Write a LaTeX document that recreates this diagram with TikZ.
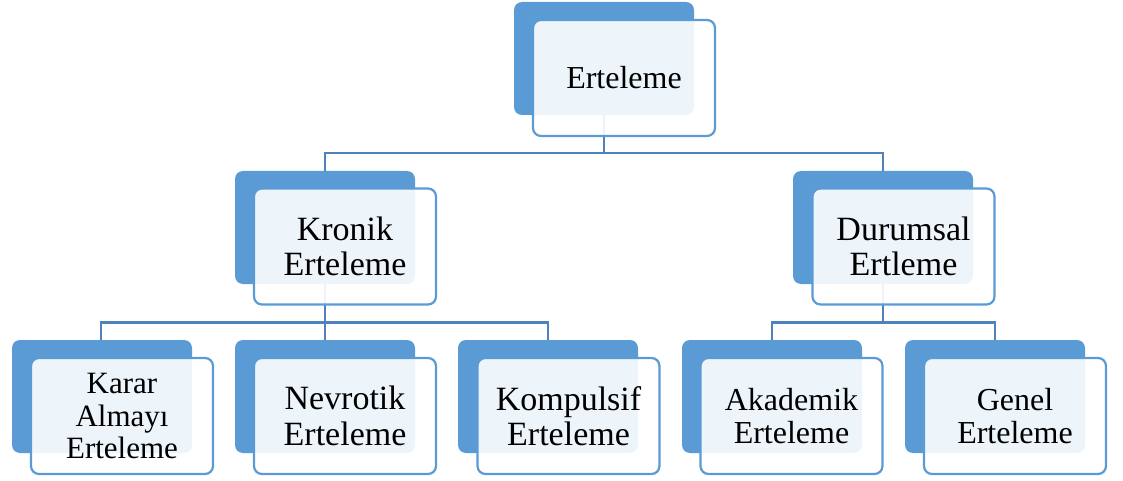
\documentclass[tikz,border=0pt]{standalone}
\usepackage{fontspec}
\setmainfont{Liberation Serif}
\definecolor{boxblue}{HTML}{5B9BD5}
\definecolor{linkblue}{HTML}{4F81BD}
\tikzset{
  backbox/.style={rectangle, rounded corners=8pt, fill=boxblue, draw=none,
    minimum width=180pt, minimum height=113pt, inner sep=0pt},
  frontbox/.style={rectangle, rounded corners=8pt, draw=boxblue, line width=2.2pt,
    fill=white, fill opacity=0.9, text opacity=1,
    minimum width=182pt, minimum height=116pt, inner sep=0pt, align=center},
  big/.style={font=\fontsize{34}{35.5}\selectfont},
  mid/.style={font=\fontsize{32}{33}\selectfont},
  small/.style={font=\fontsize{31}{32.5}\selectfont},
  link/.style={draw=linkblue, line width=2.3pt}
}
\begin{document}
\begin{tikzpicture}[x=1pt,y=-1pt]
\useasboundingbox (0,0) rectangle (1123,481);
% back boxes
\node[backbox] (topB) at (604,58.5) {};
\node[backbox] (kronB) at (325,227.5) {};
\node[backbox] (durB) at (883,227.5) {};
\node[backbox] (kararB) at (102,396.5) {};
\node[backbox] (nevB) at (325,396.5) {};
\node[backbox] (kompB) at (548,396.5) {};
\node[backbox] (akaB) at (772,396.5) {};
\node[backbox] (genB) at (995,396.5) {};
% connectors
\coordinate (j1) at (604,153);
\coordinate (j2) at (325,322.5);
\coordinate (j3) at (883,322.5);
\draw[link] (topB.south) -- (j1);
\draw[link] (kronB.north) |- (j1) -| (durB.north);
\draw[link] (kronB.south) -- (j2);
\draw[link] (kararB.north -| 101,0) |- (j2) -| (kompB.north);
\draw[link] (j2) -- (nevB.north);
\draw[link] (durB.south) -- (j3);
\draw[link] (akaB.north) |- (j3) -| (genB.north);
% front boxes
\node[frontbox, mid] (top) at (624,78) {Erteleme};
\node[frontbox, big] (kron) at (345,246.5) {Kronik\\Erteleme};
\node[frontbox, big] (dur) at (903.5,246.5) {Durumsal\\Ertleme};
\node[frontbox, small] (karar) at (122,416) {Karar\\Almayı\\Erteleme};
\node[frontbox, big] (nev) at (345,416) {Nevrotik\\Erteleme};
\node[frontbox, big] (komp) at (568.5,416) {Kompulsif\\Erteleme};
\node[frontbox, mid] (aka) at (791.5,416) {Akademik\\Erteleme};
\node[frontbox, mid] (gen) at (1015,416) {Genel\\Erteleme};
\end{tikzpicture}
\end{document}
